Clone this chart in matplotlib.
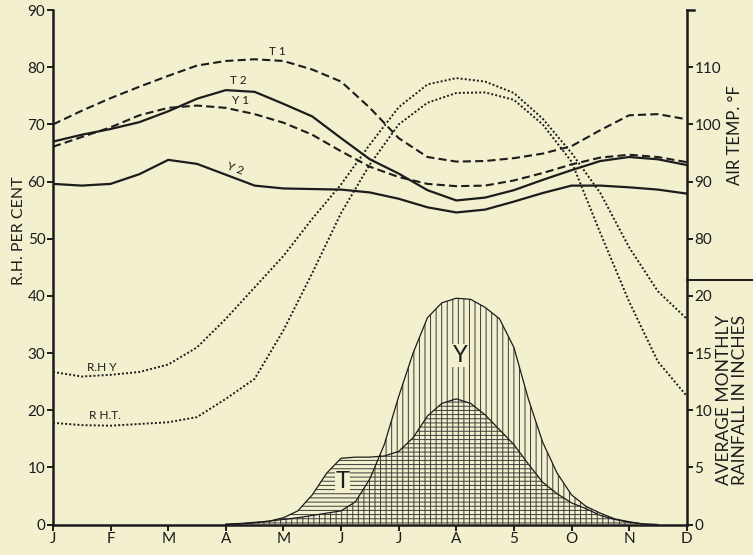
import numpy as np
import matplotlib.pyplot as plt

plt.rcParams['font.family'] = ['Lato', 'DejaVu Sans']
plt.rcParams['hatch.linewidth'] = 0.7

BG = "#f2f0ce"   # цвет бумаги
INK = "#1c1c1c"

months = ["J", "F", "M", "A", "M", "J", "J", "A", "5", "O", "N", "D"]
half = np.arange(0, 11.5, 0.5)  # точки через полмесяца, J..D

# температура воздуха, °F
t1 = [100, 102.4, 104.6, 106.6, 108.5, 110.3, 111.1, 111.4, 111.1, 109.6, 107.5, 102.9,
      97.6, 94.3, 93.5, 93.6, 94.1, 94.9, 96.2, 99, 101.6, 101.8, 100.9]
t2 = [97, 98.2, 99.2, 100.4, 102.3, 104.5, 106, 105.7, 103.6, 101.4, 97.6, 93.9,
      91.4, 88.5, 86.7, 87.2, 88.5, 90.3, 92, 93.6, 94.3, 93.9, 92.9]
y1 = [96.1, 97.8, 99.5, 101.6, 102.9, 103.3, 102.9, 101.8, 100.3, 98.2, 95.3, 92.6,
      90.8, 89.6, 89.2, 89.3, 90.2, 91.5, 93, 94.2, 94.7, 94.3, 93.4]
y2 = [89.6, 89.3, 89.6, 91.3, 93.8, 93.1, 91.2, 89.3, 88.8, 88.7, 88.6, 88.1,
      87, 85.5, 84.6, 85.1, 86.5, 88, 89.3, 89.3, 89, 88.6, 87.9]

# относительная влажность, %
rh_y = [26.7, 25.9, 26.2, 26.7, 28, 31, 36, 41.5, 47, 53.5, 59.5, 66.5,
        73, 77, 78.1, 77.5, 75.5, 71, 65, 58, 48.5, 40.8, 36]
rh_t = [17.8, 17.4, 17.3, 17.6, 17.9, 18.8, 22, 25.5, 34, 44, 54.5, 63,
        70, 73.8, 75.5, 75.6, 74.3, 70, 63.5, 51, 39, 28.5, 22.5]

# осадки, дюймы (через четверть месяца, апрель..ноябрь)
rain_x = np.arange(3, 10.75, 0.25)
rain_y = [0.05, 0.1, 0.2, 0.3, 0.45, 0.6, 0.8, 1.0, 1.2, 2.0, 4.0, 7.0,
          11.2, 15.0, 18.1, 19.4, 19.8, 19.7, 19.0, 18.0, 15.5, 11.0, 7.2, 4.5,
          2.6, 1.6, 1.0, 0.5, 0.25, 0.05, 0]
rain_t = [0, 0.05, 0.15, 0.3, 0.6, 1.2, 2.6, 4.5, 5.8, 5.9, 5.9, 6.0,
          6.4, 7.6, 9.5, 10.6, 11.0, 10.6, 9.6, 8.3, 7.0, 5.3, 3.7, 2.7,
          1.9, 1.4, 0.8, 0.45, 0.2, 0.05, 0]

fig = plt.figure(figsize=(7.53, 5.55), dpi=100, facecolor=BG)
ax = fig.add_axes([0.0704, 0.0548, 0.8416, 0.927])
ax.set_facecolor(BG)
ax.set_xlim(0, 11)
ax.set_ylim(0, 90)

ax_t = ax.twinx()
ax_t.set_ylim(30, 120)
ax_r = ax.twinx()
ax_r.set_ylim(0, 45)

for a in (ax, ax_t, ax_r):
    for s in a.spines.values():
        s.set_visible(False)
ax.spines['left'].set_visible(True)
ax.spines['bottom'].set_visible(True)
ax_r.spines['right'].set_visible(True)
for s in (ax.spines['left'], ax.spines['bottom'], ax_r.spines['right']):
    s.set_linewidth(1.8)
    s.set_color(INK)

tick_kw = dict(direction='out', length=4, width=1.4, colors=INK, labelsize=11, pad=1.5)
ax.set_xticks(range(12))
ax.set_xticklabels(months)
ax.set_yticks(range(0, 91, 10))
ax.tick_params(axis='both', **tick_kw)
ax_t.set_yticks([80, 90, 100, 110])
ax_t.tick_params(axis='y', **tick_kw)
ax_r.set_yticks([0, 5, 10, 15, 20])
ax_r.tick_params(axis='y', **tick_kw)

# линии температуры
dash = (0, (3.9, 2))
ax_t.plot(half, t1, color=INK, lw=1.5, linestyle=dash)
ax_t.plot(half, t2, color=INK, lw=1.6)
ax_t.plot(half, y1, color=INK, lw=1.5, linestyle=dash)
ax_t.plot(half, y2, color=INK, lw=1.6)

# влажность
dot = (0, (1, 1.1))
ax.plot(half, rh_y, color=INK, lw=1.4, linestyle=dot)
ax.plot(half, rh_t, color=INK, lw=1.4, linestyle=dot)

# осадки: Y — вертикальная штриховка, T — горизонтальная
ax_r.fill_between(rain_x, 0, rain_y, facecolor='none', edgecolor='#3a3a3a',
                  hatch='|||', linewidth=0)
ax_r.fill_between(rain_x, 0, rain_t, facecolor='none', edgecolor='#3a3a3a',
                  hatch='----', linewidth=0)
ax_r.plot(rain_x, rain_y, color=INK, lw=0.9)
ax_r.plot(rain_x, rain_t, color=INK, lw=0.9)
ax_r.text(7.07, 14.8, "Y", fontsize=17, ha='center', va='center', color=INK,
          bbox=dict(facecolor=BG, edgecolor='none', pad=0.5))
ax_r.text(5.02, 3.75, "T", fontsize=17, ha='center', va='center', color=INK,
          bbox=dict(facecolor=BG, edgecolor='none', pad=0.5))

# подписи кривых
lab = dict(fontsize=8.5, color=INK, ha='center', va='center')
ax_t.text(3.89, 112.8, "T 1", **lab)
ax_t.text(3.21, 107.7, "T 2", **lab)
ax_t.text(3.25, 104.1, "Y 1", **lab)
ax_t.text(3.16, 92.2, "Y 2", rotation=-20, **lab)
ax.text(0.85, 27.5, "R.H Y", **lab)
ax.text(0.9, 19.0, "R H.T.", **lab)

# разделитель правой оси и засечка сверху
ax_t.plot([1, 1.104], [72.8, 72.8], transform=ax_t.get_yaxis_transform(),
          color=INK, lw=1.4, clip_on=False)
ax_t.plot([1, 1.012], [120, 120], transform=ax_t.get_yaxis_transform(),
          color=INK, lw=1.8, clip_on=False)

fig.text(0.025, 0.585, "R.H. PER CENT", rotation=90, ha='center', va='center',
         fontsize=11.5, color=INK)
fig.text(0.976, 0.757, "AIR TEMP. °F", rotation=90, ha='center', va='center',
         fontsize=12, color=INK)
fig.text(0.972, 0.279, "AVERAGE MONTHLY\nRAINFALL IN INCHES", rotation=90,
         ha='center', va='center', multialignment='center', linespacing=1.05,
         fontsize=12.5, color=INK)

fig.savefig("out.png", dpi=100, facecolor=BG)
